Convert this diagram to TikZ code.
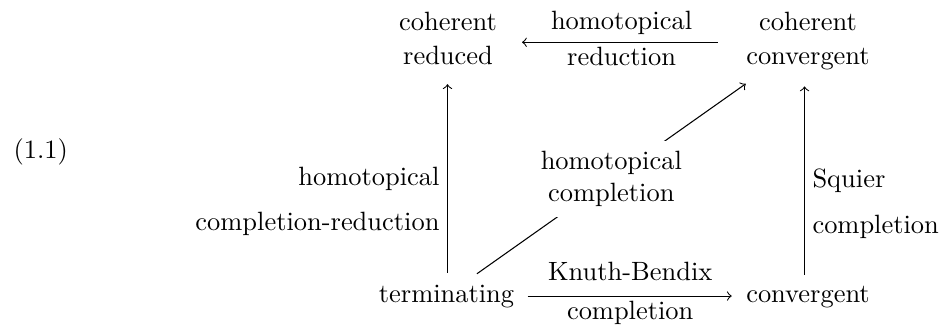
\documentclass[tikz,border=0pt]{standalone}
\begin{document}
\begin{tikzpicture}[x=0.3781pt,y=-0.3781pt,
  every node/.style={inner sep=0pt},
  arr/.style={-to, line width=0.4pt},
  toplab/.style={midway, above=2.7pt},
  botlab/.style={midway, below=1.6pt}]
\useasboundingbox (0,0) rectangle (939,327);
\node[anchor=base west] (eq) at (13,158) {(1.1)};
\node[anchor=north, align=center] (cr) at (448,11.6) {coherent\\[1pt]reduced};
\node[anchor=north, align=center] (cc) at (808,11.6) {coherent\\[1pt]convergent};
\node[anchor=base] (term) at (446.5,302) {terminating};
\node[anchor=base] (conv) at (808,302) {convergent};
\node[anchor=north east, align=right] (hl) at (440,166.6) {homotopical\\[5pt]completion-reduction};
\node[anchor=north west, align=left] (sq) at (812,168.1) {Squier\\[5.4pt]completion};
% top arrow
\draw[arr, shorten <=10.6pt, shorten >=9.3pt] ([yshift=-0.4pt]cc.west) -- ([yshift=-0.4pt]cc.west -| cr.east)
  node[toplab] (tl1) {homotopical} node[botlab] (tl2) {reduction};
% bottom arrow
\draw[arr, shorten <=4.9pt, shorten >=5.3pt] (term.east) -- (term.east -| conv.west)
  node[toplab, above=3pt] (bl1) {Knuth-Bendix} node[botlab] (bl2) {completion};
% left vertical
\draw[arr, shorten <=4.3pt, shorten >=7pt] ([xshift=-0.19pt]cr.south |- term.north) -- ([xshift=-0.19pt]cr.south);
% right vertical
\draw[arr, shorten <=4pt, shorten >=5.9pt] ([xshift=-1.31pt]conv.north) -- ([xshift=-1.31pt]cc.south);
% diagonal
\draw[arr] ([xshift=11.5pt,yshift=3.9pt]term.north) -- ([yshift=-4.9pt]cc.south west)
  node[midway, fill=white, inner sep=4pt, align=center] (hc) {homotopical\\completion};
\end{tikzpicture}
\end{document}
